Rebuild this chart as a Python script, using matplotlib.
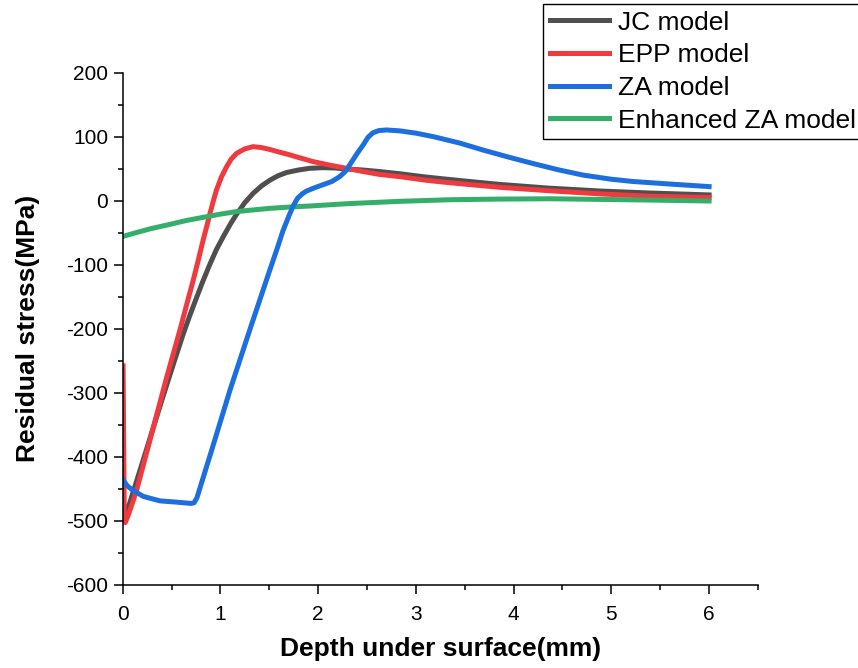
import matplotlib
matplotlib.use("Agg")
import matplotlib.pyplot as plt
from matplotlib.ticker import MultipleLocator

plt.rcParams['font.family'] = ['Liberation Sans', 'DejaVu Sans']
plt.rcParams['axes.unicode_minus'] = False

# residual stress profiles (depth in mm, stress in MPa)
jc_x = [0.0, 0.04, 0.2, 0.4, 0.5, 0.56, 0.62, 0.69, 0.757, 0.82, 0.893, 0.96, 1.03,
        1.1, 1.166, 1.25, 1.335, 1.42, 1.506, 1.59, 1.677, 1.8, 1.915, 2.05, 2.18,
        2.29, 2.45, 2.63, 2.84, 3.1, 3.35, 3.85, 4.37, 4.9, 5.39, 6.0]
jc_y = [-470, -488, -410, -312, -264, -236, -208, -178, -151, -126, -99, -76, -56,
        -37, -21, -3, 11.5, 23, 32, 39, 44, 48, 50.6, 51.6, 51,
        49.5, 48, 45.5, 42, 37, 33, 25.5, 19.5, 15, 12, 9]

epp_x = [0.004, 0.016, 0.026, 0.06, 0.1, 0.143, 0.3, 0.45, 0.586, 0.65, 0.722, 0.775,
         0.824, 0.86, 0.893, 0.93, 0.96, 1.01, 1.063, 1.11, 1.166, 1.25, 1.335, 1.42,
         1.506, 1.61, 1.677, 1.8, 1.95, 2.12, 2.29, 2.46, 2.63, 2.84, 3.1, 3.35, 3.85,
         4.37, 4.9, 5.39, 6.0]
epp_y = [-258, -498, -503, -490, -472, -452, -362, -276, -202, -165, -124, -92,
         -61, -40, -20, 1, 17, 37, 53, 65, 74, 81, 84.4, 83,
         80, 75.6, 73, 67.5, 61, 55.5, 50.6, 45.5, 41, 37.5, 32, 28, 21,
         15.5, 10.5, 7, 5]

za_x = [0.0, 0.05, 0.1, 0.21, 0.38, 0.55, 0.70, 0.73, 0.76, 0.9, 1.1, 1.3, 1.506,
        1.58, 1.64, 1.70, 1.745, 1.79, 1.84, 1.88, 1.96, 2.05, 2.14, 2.22, 2.28, 2.34,
        2.40, 2.46, 2.51, 2.56, 2.62, 2.70, 2.84, 3.0, 3.18, 3.45, 3.69, 3.95, 4.2,
        4.45, 4.71, 5.0, 5.22, 5.6, 6.0]
za_y = [-436, -446, -452, -462, -469, -471, -473, -472, -464, -395, -295, -202, -108,
        -75, -47, -24, -8, 4, 11, 15, 20, 25, 30, 37.5, 46, 60,
        74, 87, 99, 106, 109.5, 110.5, 109, 105.5, 100, 90, 79, 68, 58,
        48.5, 40, 33.5, 30, 26, 22]

eza_x = [0.0, 0.1, 0.28, 0.484, 0.65, 0.824, 1.0, 1.166, 1.33, 1.506, 1.7, 1.915,
         2.32, 2.84, 3.35, 3.85, 4.37, 4.9, 5.39, 6.0]
eza_y = [-56, -51.5, -44, -37, -31, -26, -21, -17, -14.5, -12, -10, -8.3,
         -4.5, -1, 1.5, 2.5, 3, 2, 1, -0.5]

fig = plt.figure(figsize=(8.58, 6.68), dpi=100)
ax = fig.add_axes([0.143, 0.1247, 0.7404, 0.7665])

lw = 3.6
ax.plot(jc_x, jc_y, color='#4f4f4f', lw=lw, label='JC model', zorder=2)
ax.plot(epp_x, epp_y, color='#ef3a40', lw=lw, label='EPP model', zorder=2.1)
ax.plot(za_x, za_y, color='#1d6fe0', lw=lw, label='ZA model', zorder=2.3)
ax.plot(eza_x, eza_y, color='#35ae6a', lw=lw, label='Enhanced ZA model', zorder=2.2)

ax.set_xlim(0, 6.5)
ax.set_ylim(-600, 200)
ax.xaxis.set_major_locator(MultipleLocator(1))
ax.xaxis.set_minor_locator(MultipleLocator(0.5))
ax.yaxis.set_major_locator(MultipleLocator(100))
ax.yaxis.set_minor_locator(MultipleLocator(50))

for side in ['top', 'right']:
    ax.spines[side].set_visible(False)
for side in ['left', 'bottom']:
    ax.spines[side].set_linewidth(1.1)

ax.tick_params(which='major', length=6.5, width=1.1, labelsize=15)
ax.tick_params(which='minor', length=3.6, width=1.1)
ax.tick_params(axis='x', which='major', pad=8)
ax.tick_params(axis='y', which='major', pad=4)

ax.set_xlabel('Depth under surface(mm)', fontsize=19, fontweight='bold')
ax.set_ylabel('Residual stress(MPa)', fontsize=19, fontweight='bold')
ax.xaxis.set_label_coords(0.5, -0.102)
ax.yaxis.set_label_coords(-0.13, 0.5)

ax.legend(loc='upper left', bbox_to_anchor=(543 / 858, 1 - 4 / 668),
          bbox_transform=fig.transFigure, fontsize=19, frameon=True, fancybox=False,
          edgecolor='black', framealpha=1, borderpad=0.25, labelspacing=0.33,
          handlelength=2.25, handletextpad=0.35, borderaxespad=0)

fig.savefig('out.png', dpi=100)
